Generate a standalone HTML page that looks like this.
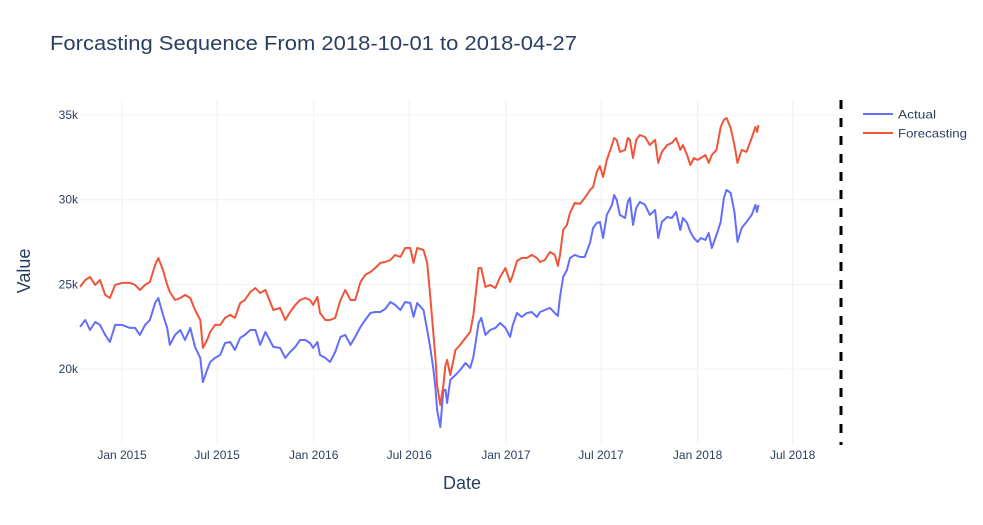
<!DOCTYPE html>
<html><head><meta charset="utf-8"><style>
html,body{margin:0;padding:0;background:#fff;}
svg{display:block;font-family:"Liberation Sans",Arial,sans-serif;}
</style></head><body>
<svg id="chart" width="983" height="525">
<rect width="983" height="525" fill="#fff"/>
<text x="50" y="50" font-size="20" fill="#2a3f5f" textLength="527" lengthAdjust="spacingAndGlyphs">Forcasting Sequence From 2018-10-01 to 2018-04-27</text>
<g id="grid"></g><g id="series"></g><g id="axes"></g>
<text x="462" y="489" font-size="18" fill="#2a3f5f" text-anchor="middle">Date</text>
<text transform="translate(30,271) rotate(-90)" font-size="18" fill="#2a3f5f" text-anchor="middle">Value</text>
<g>
 <g><line x1="863" y1="114" x2="893" y2="114" stroke="#636efa" stroke-width="2"/><text x="898" y="118.5" font-size="12" fill="#2a3f5f" textLength="38" lengthAdjust="spacingAndGlyphs">Actual</text></g>
 <g><line x1="863" y1="133" x2="893" y2="133" stroke="#EF553B" stroke-width="2"/><text x="898" y="137.5" font-size="12" fill="#2a3f5f" textLength="69" lengthAdjust="spacingAndGlyphs">Forecasting</text></g>
</g>
</svg>
<script>
const dates=["2014-10-13","2014-10-23","2014-11-01","2014-11-11","2014-11-20","2014-11-30","2014-12-09","2014-12-19","2015-01-01","2015-01-16","2015-01-26","2015-02-04","2015-02-14","2015-02-23","2015-03-05","2015-03-11","2015-03-20","2015-03-28","2015-04-02","2015-04-12","2015-04-22","2015-05-01","2015-05-11","2015-05-20","2015-05-30","2015-06-04","2015-06-12","2015-06-18","2015-06-27","2015-07-07","2015-07-16","2015-07-26","2015-08-04","2015-08-14","2015-08-23","2015-09-02","2015-09-12","2015-09-21","2015-10-01","2015-10-16","2015-10-29","2015-11-08","2015-11-17","2015-11-27","2015-12-06","2015-12-16","2015-12-25","2015-12-31","2016-01-08","2016-01-13","2016-01-23","2016-02-01","2016-02-11","2016-02-21","2016-03-01","2016-03-11","2016-03-20","2016-03-30","2016-04-08","2016-04-18","2016-04-27","2016-05-07","2016-05-16","2016-05-26","2016-06-04","2016-06-14","2016-06-23","2016-07-03","2016-07-09","2016-07-16","2016-07-28","2016-08-04","2016-08-10","2016-08-16","2016-08-20","2016-08-23","2016-08-29","2016-09-04","2016-09-08","2016-09-11","2016-09-17","2016-09-27","2016-10-06","2016-10-16","2016-10-25","2016-10-31","2016-11-10","2016-11-15","2016-11-23","2016-12-02","2016-12-12","2016-12-21","2016-12-31","2017-01-09","2017-01-14","2017-01-22","2017-01-31","2017-02-10","2017-02-19","2017-03-01","2017-03-07","2017-03-16","2017-03-26","2017-04-04","2017-04-10","2017-04-14","2017-04-20","2017-04-27","2017-05-03","2017-05-12","2017-05-22","2017-05-31","2017-06-10","2017-06-16","2017-06-23","2017-06-29","2017-07-05","2017-07-12","2017-07-22","2017-07-26","2017-07-31","2017-08-06","2017-08-16","2017-08-21","2017-08-25","2017-08-31","2017-09-06","2017-09-13","2017-09-23","2017-10-02","2017-10-12","2017-10-18","2017-10-25","2017-11-04","2017-11-13","2017-11-21","2017-11-29","2017-12-04","2017-12-12","2017-12-18","2017-12-25","2018-01-01","2018-01-07","2018-01-16","2018-01-22","2018-01-28","2018-02-06","2018-02-14","2018-02-20","2018-02-25","2018-03-05","2018-03-12","2018-03-18","2018-03-26","2018-04-04","2018-04-14","2018-04-21","2018-04-24","2018-04-27"];
const actual=[22490,22900,22310,22780,22610,22020,21600,22610,22610,22430,22430,22020,22610,22900,23900,24200,23200,22430,21430,22020,22310,21720,22430,21310,20660,19240,19950,20420,20660,20830,21540,21600,21130,21840,22020,22310,22310,21430,22190,21310,21250,20660,21010,21310,21720,21720,21540,21250,21600,20830,20660,20420,21010,21900,22020,21430,21900,22490,22900,23310,23370,23370,23550,23960,23790,23490,23960,23900,23080,23900,23490,22310,21250,19950,18770,17590,16580,18770,18770,18000,19360,19650,19950,20360,20070,20720,22720,23020,22020,22310,22430,22720,22430,21900,22610,23310,23080,23310,23370,23080,23370,23490,23610,23310,23140,24260,25440,25850,26560,26740,26620,26620,27450,28330,28630,28690,27740,29100,29690,30280,29980,29100,28920,29870,30100,28510,29510,29870,29690,29100,29390,27740,28690,28980,28920,29280,28210,28920,28630,28100,27740,27510,27740,27620,28040,27150,27920,28690,30100,30570,30400,29280,27510,28330,28690,29100,29690,29280,29690];
const forecast=[24850,25260,25440,24970,25260,24380,24200,24970,25090,25090,24970,24670,24970,25140,26150,26560,25850,24970,24550,24080,24200,24380,24200,23490,22900,21250,21720,22190,22610,22610,23020,23200,23020,23900,24080,24550,24790,24490,24670,23490,23610,22900,23370,23790,24080,24200,24080,23790,24260,23310,22900,22900,23020,24080,24670,24080,24080,25140,25560,25730,25970,26270,26320,26440,26740,26620,27150,27150,26270,27150,27030,26270,24260,22020,20540,19060,17880,19060,20240,20540,19650,21130,21430,21840,22190,23200,25970,25970,24850,24970,24790,25440,25970,25140,25560,26380,26560,26560,26740,26560,26320,26440,26910,26740,26090,26740,28210,28510,29220,29810,29750,30100,30570,30750,31640,31990,31340,32350,33230,33640,33530,32820,32940,33640,33530,32460,33530,33820,33700,33230,33530,32170,32820,33230,33350,33640,32940,33230,32640,32050,32460,32350,32460,32640,32170,32640,32940,34290,34710,34820,34230,33230,32170,32940,32820,33640,34290,34000,34410];
const yTicks=[20000,25000,30000,35000];
const yTickLabels=["20k","25k","30k","35k"];
const xTicks=["2015-01-01","2015-07-01","2016-01-01","2016-07-01","2017-01-01","2017-07-01","2018-01-01","2018-07-01"];
const xTickLabels=["Jan 2015","Jul 2015","Jan 2016","Jul 2016","Jan 2017","Jul 2017","Jan 2018","Jul 2018"];
const markerDate="2018-10-01";

const NS="http://www.w3.org/2000/svg";
const L=80,R=841,T=100,B=445;
const x0=Date.parse("2014-10-13"),x1=Date.parse("2018-10-01");
const yMin=15520,yMax=35885;
function xs(d){return L+(Date.parse(d)-x0)/(x1-x0)*(R-L);}
function ys(v){return B-(v-yMin)/(yMax-yMin)*(B-T);}
function mk(tag,attrs,parent){const e=document.createElementNS(NS,tag);for(const k in attrs)e.setAttribute(k,attrs[k]);parent.appendChild(e);return e;}
const grid=document.getElementById('grid'),axes=document.getElementById('axes'),ser=document.getElementById('series');
yTicks.forEach((v,i)=>{
 const g=mk('line',{x1:L,x2:R,y1:ys(v),y2:ys(v),stroke:'#ebf0f8','stroke-width':1},grid);
 
 
 const t=mk('text',{x:L-2,y:ys(v)+4,'font-size':12,fill:'#2a3f5f','text-anchor':'end'},axes);
 t.textContent=yTickLabels[i];
 
 
});
xTicks.forEach((d,i)=>{
 const g=mk('line',{x1:xs(d),x2:xs(d),y1:T,y2:B,stroke:'#ebf0f8','stroke-width':1},grid);
 
 
 const t=mk('text',{x:xs(d),y:B+14,'font-size':12,fill:'#2a3f5f','text-anchor':'middle'},axes);
 t.textContent=xTickLabels[i];
 
 
});
function line(vals,color,name){
 const p=vals.map((v,i)=>(i?'L':'M')+xs(dates[i]).toFixed(1)+','+ys(v).toFixed(1)).join('');
 const e=mk('path',{d:p,fill:'none',stroke:color,'stroke-width':2,'stroke-linejoin':'round'},ser);
 
 
}
line(actual,'#636efa','actual-line');
line(forecast,'#EF553B','forecasting-line');
const m=mk('line',{x1:xs(markerDate),x2:xs(markerDate),y1:T,y2:B,stroke:'#000','stroke-width':3,'stroke-dasharray':'9,9'},ser);


</script>
</body></html>
